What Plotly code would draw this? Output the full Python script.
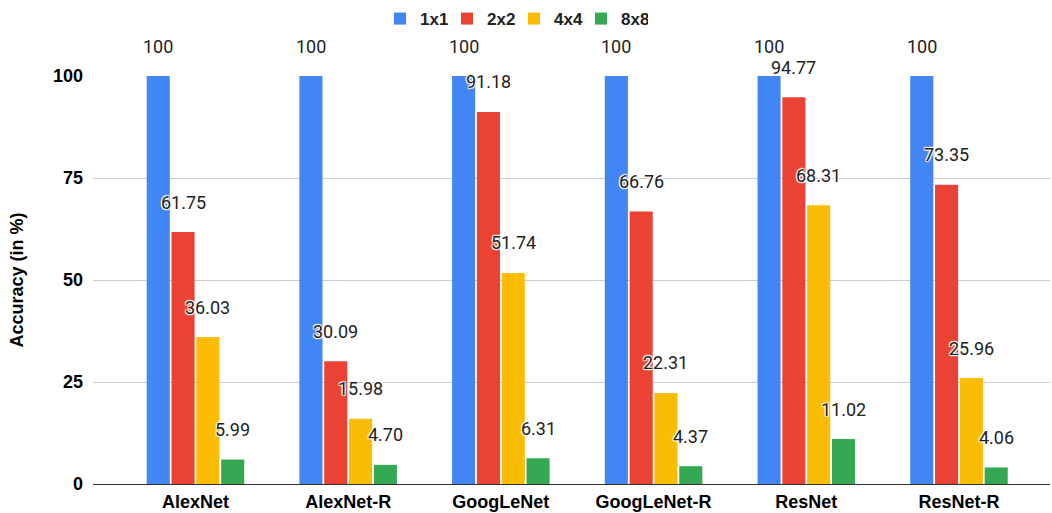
import plotly.graph_objects as go

categories = ["AlexNet", "AlexNet-R", "GoogLeNet", "GoogLeNet-R", "ResNet", "ResNet-R"]
series_names = ["1x1", "2x2", "4x4", "8x8"]
v_1x1 = [100, 100, 100, 100, 100, 100]
v_2x2 = [61.75, 30.09, 91.18, 66.76, 94.77, 73.35]
v_4x4 = [36.03, 15.98, 51.74, 22.31, 68.31, 25.96]
v_8x8 = [5.99, 4.70, 6.31, 4.37, 11.02, 4.06]
labels_1x1 = ["100"] * 6
labels_2x2 = ["61.75", "30.09", "91.18", "66.76", "94.77", "73.35"]
labels_4x4 = ["36.03", "15.98", "51.74", "22.31", "68.31", "25.96"]
labels_8x8 = ["5.99", "4.70", "6.31", "4.37", "11.02", "4.06"]
y_ticks = [0, 25, 50, 75, 100]

colors = ["#4285F4", "#EA4335", "#FBBC04", "#34A853"]
values = [v_1x1, v_2x2, v_4x4, v_8x8]
labels = [labels_1x1, labels_2x2, labels_4x4, labels_8x8]

BOLD = "Liberation Sans, Arial, sans-serif"

fig = go.Figure()
for name, vals, col in zip(series_names, values, colors):
    fig.add_trace(go.Bar(x=categories, y=vals, name=name,
                         marker=dict(color=col, line=dict(width=0))))

bargap = 0.35
slot = (1 - bargap) / 4
halo = "white 1px 1px 1px, white -1px -1px 1px, white 1px -1px 1px, white -1px 1px 1px"
annotations = []
for k, (vals, labs) in enumerate(zip(values, labels)):
    off = (k - 1.5) * slot
    for i, (v, t) in enumerate(zip(vals, labs)):
        annotations.append(dict(
            x=i + off, y=v, xref="x", yref="y", text=t, showarrow=False,
            yshift=30, font=dict(family="Roboto", size=18, color="#222222", shadow=halo),
        ))

fig.update_layout(
    width=1052, height=513,
    margin=dict(l=93, r=2, t=76, b=29),
    paper_bgcolor="white", plot_bgcolor="white",
    barmode="group", bargap=bargap, bargroupgap=0.07,
    font=dict(family=BOLD, color="#000000"),
    legend=dict(orientation="h", x=0.4886, xref="container", xanchor="center",
                y=0.998, yref="container", yanchor="top",
                font=dict(family=BOLD, size=17, color="#222222", weight="bold"),
                itemwidth=30, traceorder="normal", entrywidth=22, entrywidthmode="pixels"),
    annotations=annotations,
    xaxis=dict(type="category", range=[-0.671, 5.596], showgrid=False,
               tickfont=dict(family=BOLD, size=18, color="#000000", weight="bold"),
               ticks="", showline=False, ticklabelstandoff=5, automargin=False),
    yaxis=dict(range=[0, 100], tickvals=y_ticks, showgrid=True, gridcolor="#cccccc",
               gridwidth=1, zeroline=True, zerolinecolor="#333333", zerolinewidth=1,
               tickfont=dict(family=BOLD, size=18, color="#000000", weight="bold"),
               ticklabelstandoff=9, automargin=False,
               title=dict(text="Accuracy (in %)", standoff=24,
                          font=dict(family=BOLD, size=18, color="#000000", weight="bold"))),
)

fig.write_html("out.html")
